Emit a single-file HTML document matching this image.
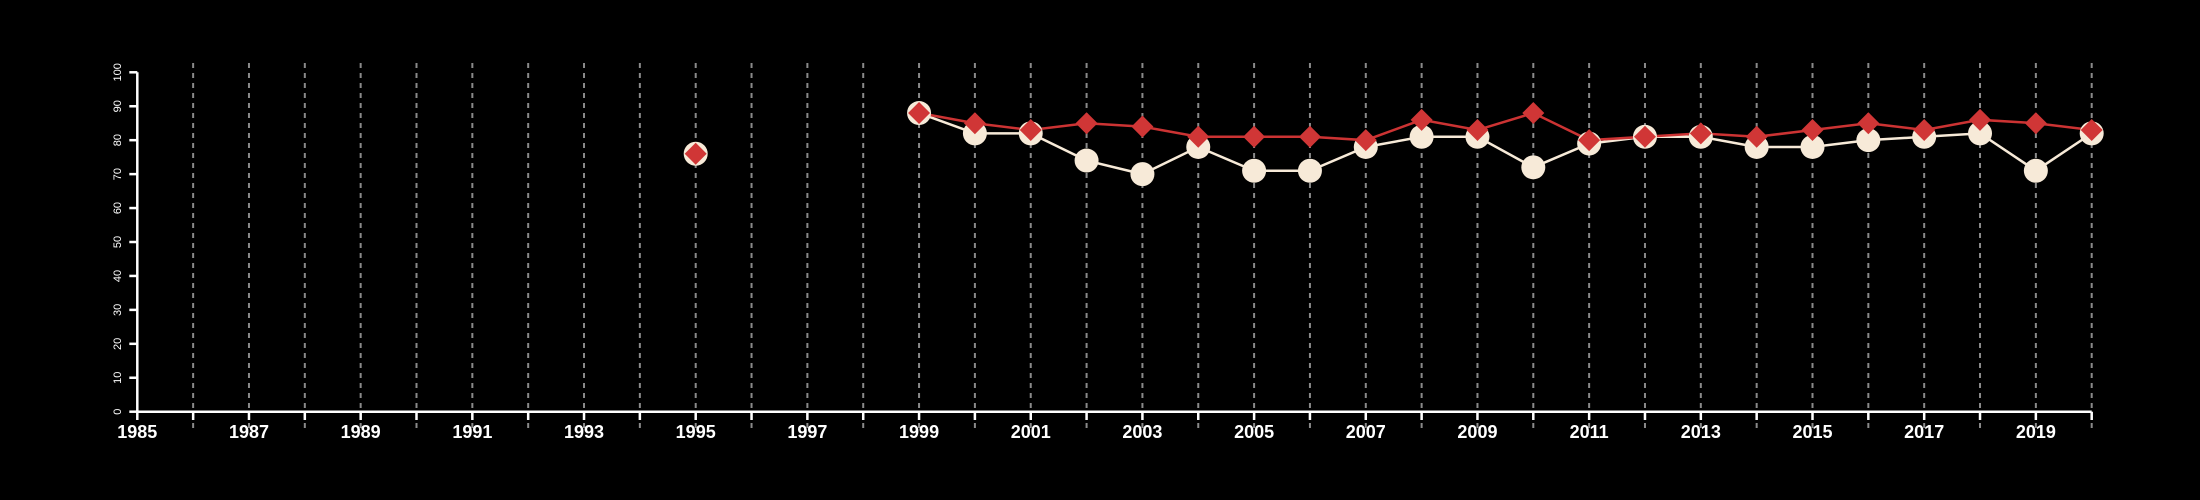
<!DOCTYPE html>
<html><head><meta charset="utf-8"><style>
html,body{margin:0;padding:0;background:#000;}
svg{display:block;font-family:"Liberation Sans",sans-serif;}
</style></head><body>
<svg id="chart" width="2200" height="500" viewBox="0 0 2200 500" xmlns="http://www.w3.org/2000/svg">
<rect width="2200" height="500" fill="#000"/>
<g id="grid"></g>
<g id="axes"></g>
<g id="series"></g>
</svg>
<script>
const years = [1995,1999,2000,2001,2002,2003,2004,2005,2006,2007,2008,2009,2010,2011,2012,2013,2014,2015,2016,2017,2018,2019,2020];
const whiteValues = [76,88,82,82,74,70,78,71,71,78,81,81,72,79,81,81,78,78,80,81,82,71,82];
const redValues = [76,88,85,83,85,84,81,81,81,80,86,83,88,80,81,82,81,83,85,83,86,85,83];
const yTicks = [0,10,20,30,40,50,60,70,80,90,100];
const xLabels = [1985,1987,1989,1991,1993,1995,1997,1999,2001,2003,2005,2007,2009,2011,2013,2015,2017,2019];
const xMin = 1985, xMax = 2020, yMin = 0, yMax = 100;

const NS = "http://www.w3.org/2000/svg";
const X0 = 137.3, X1 = 2091.7, Y0 = 411.7, Y1 = 72.3;
function xs(v){ return X0 + (v - xMin) / (xMax - xMin) * (X1 - X0); }
function ys(v){ return Y0 - (v - yMin) / (yMax - yMin) * (Y0 - Y1); }
function mk(tag, attrs, parent){ const e = document.createElementNS(NS, tag); for (const k in attrs) e.setAttribute(k, attrs[k]); parent.appendChild(e); return e; }

const grid = document.getElementById('grid');
const axes = document.getElementById('axes');
const series = document.getElementById('series');

for (let yr = xMin + 1; yr <= xMax; yr++) {
  const g = mk('line', {x1: xs(yr), x2: xs(yr), y1: 63, y2: 428, stroke: '#8a8a8a', 'stroke-width': 2, 'stroke-dasharray': '5 5'}, grid);
  
  
}
for (let yr = xMin; yr <= xMax; yr++) {
  const t = mk('line', {x1: xs(yr), x2: xs(yr), y1: Y0, y2: 420, stroke: '#fff', 'stroke-width': 2.5}, axes);
  
  
}
const xa = mk('line', {x1: X0, x2: X1, y1: Y0, y2: Y0, stroke: '#fff', 'stroke-width': 2.5}, axes);


const ya = mk('line', {x1: X0, x2: X0, y1: Y1, y2: Y0, stroke: '#fff', 'stroke-width': 2.5}, axes);


yTicks.forEach(v => {
  const t = mk('line', {x1: X0 - 8, x2: X0, y1: ys(v), y2: ys(v), stroke: '#fff', 'stroke-width': 2.5}, axes);
  
  
  const l = mk('text', {x: 0, y: 0, fill: '#fff', 'font-size': 11, 'text-anchor': 'middle', transform: `translate(121,${ys(v)}) rotate(-90)`}, axes);
  l.textContent = v;
  
  
});
xLabels.forEach(v => {
  const l = mk('text', {x: xs(v), y: 438, fill: '#fff', 'font-size': 18, 'font-weight': 'bold', 'text-anchor': 'middle'}, axes);
  l.textContent = v;
  
  
});

function pathFor(vals){
  let d = '';
  for (let i = 0; i < years.length; i++) {
    const connected = i > 0 && years[i] - years[i-1] === 1;
    d += (connected ? 'L' : 'M') + xs(years[i]) + ',' + ys(vals[i]);
  }
  return d;
}
const wl = mk('path', {d: pathFor(whiteValues), fill: 'none', stroke: '#f7ead8', 'stroke-width': 2.5}, series);


const rl = mk('path', {d: pathFor(redValues), fill: 'none', stroke: '#cc3333', 'stroke-width': 2.5}, series);



years.forEach((yr, i) => {
  const c = mk('circle', {cx: xs(yr), cy: ys(whiteValues[i]), r: 12, fill: '#f7ead8'}, series);
  
  
});
years.forEach((yr, i) => {
  const x = xs(yr), y = ys(redValues[i]), h = 11;
  const p = mk('polygon', {points: `${x},${y-h} ${x+h},${y} ${x},${y+h} ${x-h},${y}`, fill: '#d03636'}, series);
  
  
});
</script>
</body></html>
